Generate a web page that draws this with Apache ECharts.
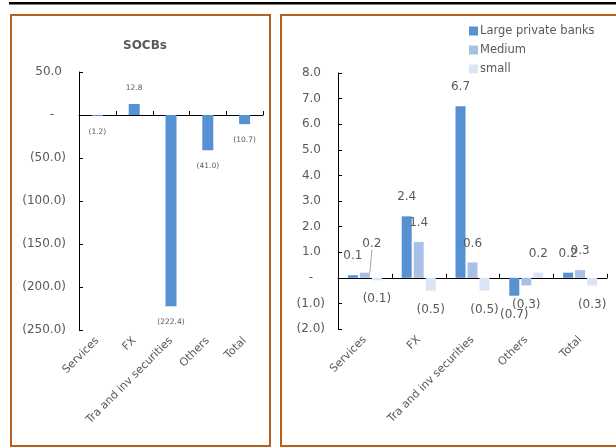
<!DOCTYPE html>
<html>
<head>
<meta charset="utf-8">
<script src="https://cdn.jsdelivr.net/npm/echarts@6/dist/echarts.min.js"></script>
<style>
  html, body { margin: 0; padding: 0; background: #fff; }
  #chart { width: 616px; height: 448px; }
</style>
</head>
<body>
<div id="chart"></div>
<script>
// Categories shared by both panels
const categories = ['Services', 'FX', 'Tra and inv securities', 'Others', 'Total'];

// Left panel: state-owned commercial banks
const socbTitle = 'SOCBs';
const socbValues = [-1.2, 12.8, -222.4, -41.0, -10.7];

// Right panel: private banks by size
const seriesNames = ['Large private banks', 'Medium', 'small'];
const largeValues = [0.1, 2.4, 6.7, -0.7, 0.2];
const mediumValues = [0.2, 1.4, 0.6, -0.3, 0.3];
const smallValues = [-0.1, -0.5, -0.5, 0.2, -0.3];

const FONT = 'DejaVu Sans';
const GREY = '#595959';
const FRAME = '#B5611F';
const COLORS = ['#5691D2', '#A8C0E5', '#DAE4F5'];

// Accounting-style number: negatives in brackets, zero as a dash
function acct(v) {
  if (Math.abs(v) < 1e-9) return '-';
  return v < 0 ? '(' + Math.abs(v).toFixed(1) + ')' : v.toFixed(1);
}
function axisLabel(v) {
  if (Math.abs(v) < 1e-9) return '{z|-}';
  return v < 0 ? '{n|' + acct(v) + '}' : '{p|' + acct(v) + '}';
}
const axisRich = {
  z: { color: GREY, fontFamily: FONT, fontSize: 12, padding: [0, 12, 0, 0] },
  n: { color: GREY, fontFamily: FONT, fontSize: 12 },
  p: { color: GREY, fontFamily: FONT, fontSize: 12, padding: [0, 4, 0, 0] }
};

function valueAxis(gridIndex, min, max, interval) {
  return {
    type: 'value', gridIndex, min, max, interval,
    splitLine: { show: false },
    axisLine: { show: true, lineStyle: { color: '#000', width: 1 } },
    axisTick: { show: true, inside: true, length: 4, lineStyle: { color: '#000' } },
    axisLabel: { formatter: axisLabel, rich: axisRich, margin: 13 }
  };
}
// Category labels sit below the plot area
function labelAxis(gridIndex) {
  return {
    type: 'category', gridIndex, data: categories, position: 'bottom',
    axisLine: { show: false, onZero: false },
    axisTick: { show: false },
    axisLabel: { interval: 0, rotate: 45, margin: 9, color: GREY, fontFamily: FONT, fontSize: 11 }
  };
}
// Zero baseline across the plot
function zeroAxis(gridIndex) {
  return {
    type: 'category', gridIndex, data: categories, position: 'bottom',
    axisLine: { show: true, onZero: true, lineStyle: { color: '#000', width: 1 } },
    axisTick: { show: false },
    axisLabel: { show: false }
  };
}
// Short upward ticks on the zero line at each category's right edge
function boundaryTicks(xAxisIndex, yAxisIndex) {
  return {
    type: 'custom', xAxisIndex, yAxisIndex, silent: true, clip: false, z: 5,
    encode: { x: 0, y: 1 },
    data: categories.map((c, i) => [i, 0]),
    renderItem: (params, api) => {
      const p = api.coord([api.value(0), 0]);
      const w = api.size([1, 0])[0];
      const x = Math.round(p[0] + w / 2) + 0.5;
      return {
        type: 'line',
        shape: { x1: x, y1: p[1], x2: x, y2: p[1] - 4 },
        style: { stroke: '#000', lineWidth: 1 }
      };
    }
  };
}

const chart = echarts.init(document.getElementById('chart'), null, { renderer: 'canvas' });

function rightSeries(name, values, idx) {
  return {
    name, type: 'bar', xAxisIndex: 2, yAxisIndex: 1,
    barWidth: 10, barGap: '20%',
    itemStyle: { color: COLORS[idx] },
    data: values.map((v, i) => {
      const item = { value: v };
      if (idx === 1 && i === 0) item.labelLine = { show: true, lineStyle: { color: '#A6A6A6', width: 1 } };
      return item;
    }),
    label: {
      show: true, position: 'outside', distance: 13,
      formatter: p => acct(p.value), color: GREY, fontFamily: FONT, fontSize: 12
    },
    labelLayout: idx === 1 ? (p => (p.dataIndex === 0 ? { dx: 7, dy: -10 } : {})) : undefined
  };
}

chart.setOption({
  animation: false,
  backgroundColor: '#fff',
  title: {
    text: socbTitle, left: 140, top: 35, textAlign: 'center',
    textStyle: { fontFamily: FONT, fontSize: 12, fontWeight: 'bold', color: GREY }
  },
  legend: {
    data: seriesNames, orient: 'vertical', left: 464, top: 20,
    itemWidth: 9, itemHeight: 9, itemGap: 7, icon: 'rect',
    textStyle: { color: GREY, fontFamily: FONT, fontSize: 11.5, padding: [0, 0, 0, -3] }
  },
  grid: [
    { left: 79, top: 72, width: 184, height: 258 },
    { left: 338, top: 73, width: 269, height: 256 }
  ],
  xAxis: [zeroAxis(0), labelAxis(0), zeroAxis(1), labelAxis(1)],
  yAxis: [valueAxis(0, -250, 50, 50), valueAxis(1, -2, 8, 1)],
  series: [
    {
      name: socbTitle, type: 'bar', xAxisIndex: 0, yAxisIndex: 0,
      barWidth: 11, itemStyle: { color: COLORS[0] },
      data: socbValues,
      label: {
        show: true, position: 'outside', distance: 12,
        formatter: p => acct(p.value), color: GREY, fontFamily: FONT, fontSize: 7.5
      }
    },
    rightSeries(seriesNames[0], largeValues, 0),
    rightSeries(seriesNames[1], mediumValues, 1),
    rightSeries(seriesNames[2], smallValues, 2),
    boundaryTicks(1, 0),
    boundaryTicks(3, 1)
  ],
  graphic: [
    { type: 'rect', shape: { x: 9, y: 2, width: 607, height: 2.5 }, style: { fill: '#000' }, silent: true },
    { type: 'rect', shape: { x: 11, y: 15, width: 259, height: 431 }, style: { fill: null, stroke: FRAME, lineWidth: 2 }, silent: true },
    { type: 'rect', shape: { x: 281, y: 15, width: 340, height: 431 }, style: { fill: null, stroke: FRAME, lineWidth: 2 }, silent: true }
  ]
});
</script>
</body>
</html>
